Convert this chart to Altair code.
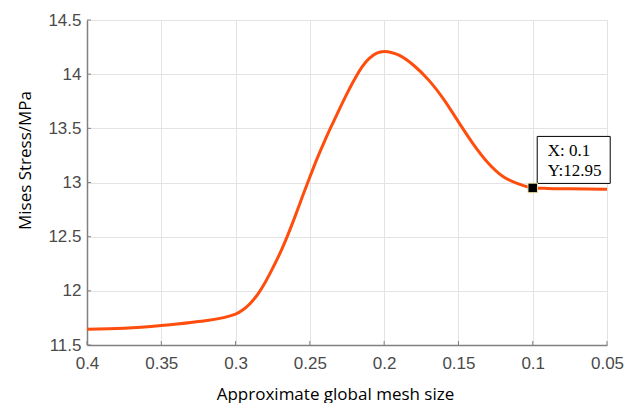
import altair as alt
import pandas as pd

# Curve
mesh_size = [0.40, 0.375, 0.35, 0.325, 0.30, 0.295, 0.29, 0.285, 0.28, 0.275, 0.27,
             0.265, 0.26, 0.255, 0.25, 0.245, 0.24, 0.235, 0.23, 0.225, 0.22, 0.215,
             0.21, 0.205, 0.20, 0.19, 0.18, 0.17, 0.16, 0.15, 0.14, 0.13, 0.12,
             0.11, 0.10, 0.09, 0.075, 0.05]
stress = [11.645, 11.655, 11.68, 11.716, 11.785, 11.825, 11.885, 11.97, 12.08, 12.21, 12.35,
          12.51, 12.685, 12.87, 13.05, 13.225, 13.385, 13.535, 13.68, 13.82, 13.95, 14.065,
          14.145, 14.195, 14.21, 14.175, 14.08, 13.945, 13.77, 13.56, 13.355, 13.18, 13.055,
          12.99, 12.95, 12.945, 12.942, 12.938]

# Data tip
tip_x = [0.1]
tip_y = [12.95]
tip_text = ["X: 0.1\nY:12.95"]

# Axis ticks
x_ticks = [0.05, 0.1, 0.15, 0.2, 0.25, 0.3, 0.35, 0.4]
y_ticks = [11.5, 12.0, 12.5, 13.0, 13.5, 14.0, 14.5]

curve = pd.DataFrame({"x": mesh_size, "y": stress})
tip = pd.DataFrame({"x": tip_x, "y": tip_y, "t": tip_text})
xt = pd.DataFrame({"x": x_ticks})
yt = pd.DataFrame({"y": y_ticks})

xscale = alt.Scale(domain=[0.05, 0.4], reverse=True, nice=False, zero=False)
yscale = alt.Scale(domain=[11.5, 14.5], nice=False, zero=False)

label_font = "Liberation Sans"
title_font = "Open Sans"

xaxis = alt.Axis(values=x_ticks, format=".2~f", title="Approximate global mesh size",
                 grid=True, gridColor="#e3e3e3", gridWidth=1,
                 domainColor="#808080", domainWidth=1.5,
                 ticks=False, tickSize=0, labelPadding=10, labelFlush=False,
                 labelOverlap=False, labelFont=label_font, labelFontSize=17,
                 labelColor="#4a4a4a", titleFont=title_font, titleFontSize=17,
                 titleFontWeight="normal", titleColor="#000000",
                 titleX=248, titleY=54, titleBaseline="alphabetic", titleAlign="center")
yaxis = alt.Axis(values=y_ticks, format=".1~f", title="Mises Stress/MPa",
                 grid=True, gridColor="#e3e3e3", gridWidth=1,
                 domainColor="#808080", domainWidth=1.5,
                 ticks=False, tickSize=0, labelPadding=6,
                 labelOverlap=False, labelFont=label_font, labelFontSize=17,
                 labelColor="#4a4a4a", titleFont=title_font, titleFontSize=17,
                 titleFontWeight="normal", titleColor="#000000",
                 titleX=-57, titleY=140, titleAngle=-90, titleBaseline="alphabetic",
                 titleAlign="center")

line = alt.Chart(curve).mark_line(color="#FF4D0D", strokeWidth=3, interpolate="monotone").encode(
    x=alt.X("x:Q", scale=xscale, axis=xaxis),
    y=alt.Y("y:Q", scale=yscale, axis=yaxis),
)

xtick_marks = alt.Chart(xt).mark_rule(color="#808080", strokeWidth=1).encode(
    x=alt.X("x:Q", scale=xscale),
    y=alt.value(325), y2=alt.value(321),
)
ytick_marks = alt.Chart(yt).mark_rule(color="#808080", strokeWidth=1).encode(
    y=alt.Y("y:Q", scale=yscale),
    x=alt.value(0), x2=alt.value(4),
)

box = alt.Chart(tip).mark_rect(fill="white", stroke="black", strokeWidth=1,
                               width=73, height=47, xOffset=41, yOffset=-28).encode(
    x=alt.X("x:Q", scale=xscale),
    y=alt.Y("y:Q", scale=yscale),
)
marker = alt.Chart(tip).mark_square(size=90, color="black", fill="black", opacity=1,
                                    stroke="#e8e0a0", strokeWidth=1).encode(
    x=alt.X("x:Q", scale=xscale),
    y=alt.Y("y:Q", scale=yscale),
)
label = alt.Chart(tip).mark_text(align="left", baseline="alphabetic", dx=15, dy=-32,
                                 lineBreak="\n", lineHeight=20,
                                 font="Liberation Serif", fontSize=17, color="black").encode(
    x=alt.X("x:Q", scale=xscale),
    y=alt.Y("y:Q", scale=yscale),
    text="t:N",
)

chart = alt.layer(line, xtick_marks, ytick_marks, box, marker, label).properties(
    width=520, height=325,
    autosize=alt.AutoSizeParams(type="none"),
    padding={"left": 87, "top": 20, "right": 18, "bottom": 58},
).configure_view(stroke=None).configure(background="white")

chart.save("out.html", embed_options={"renderer": "svg", "actions": False})
